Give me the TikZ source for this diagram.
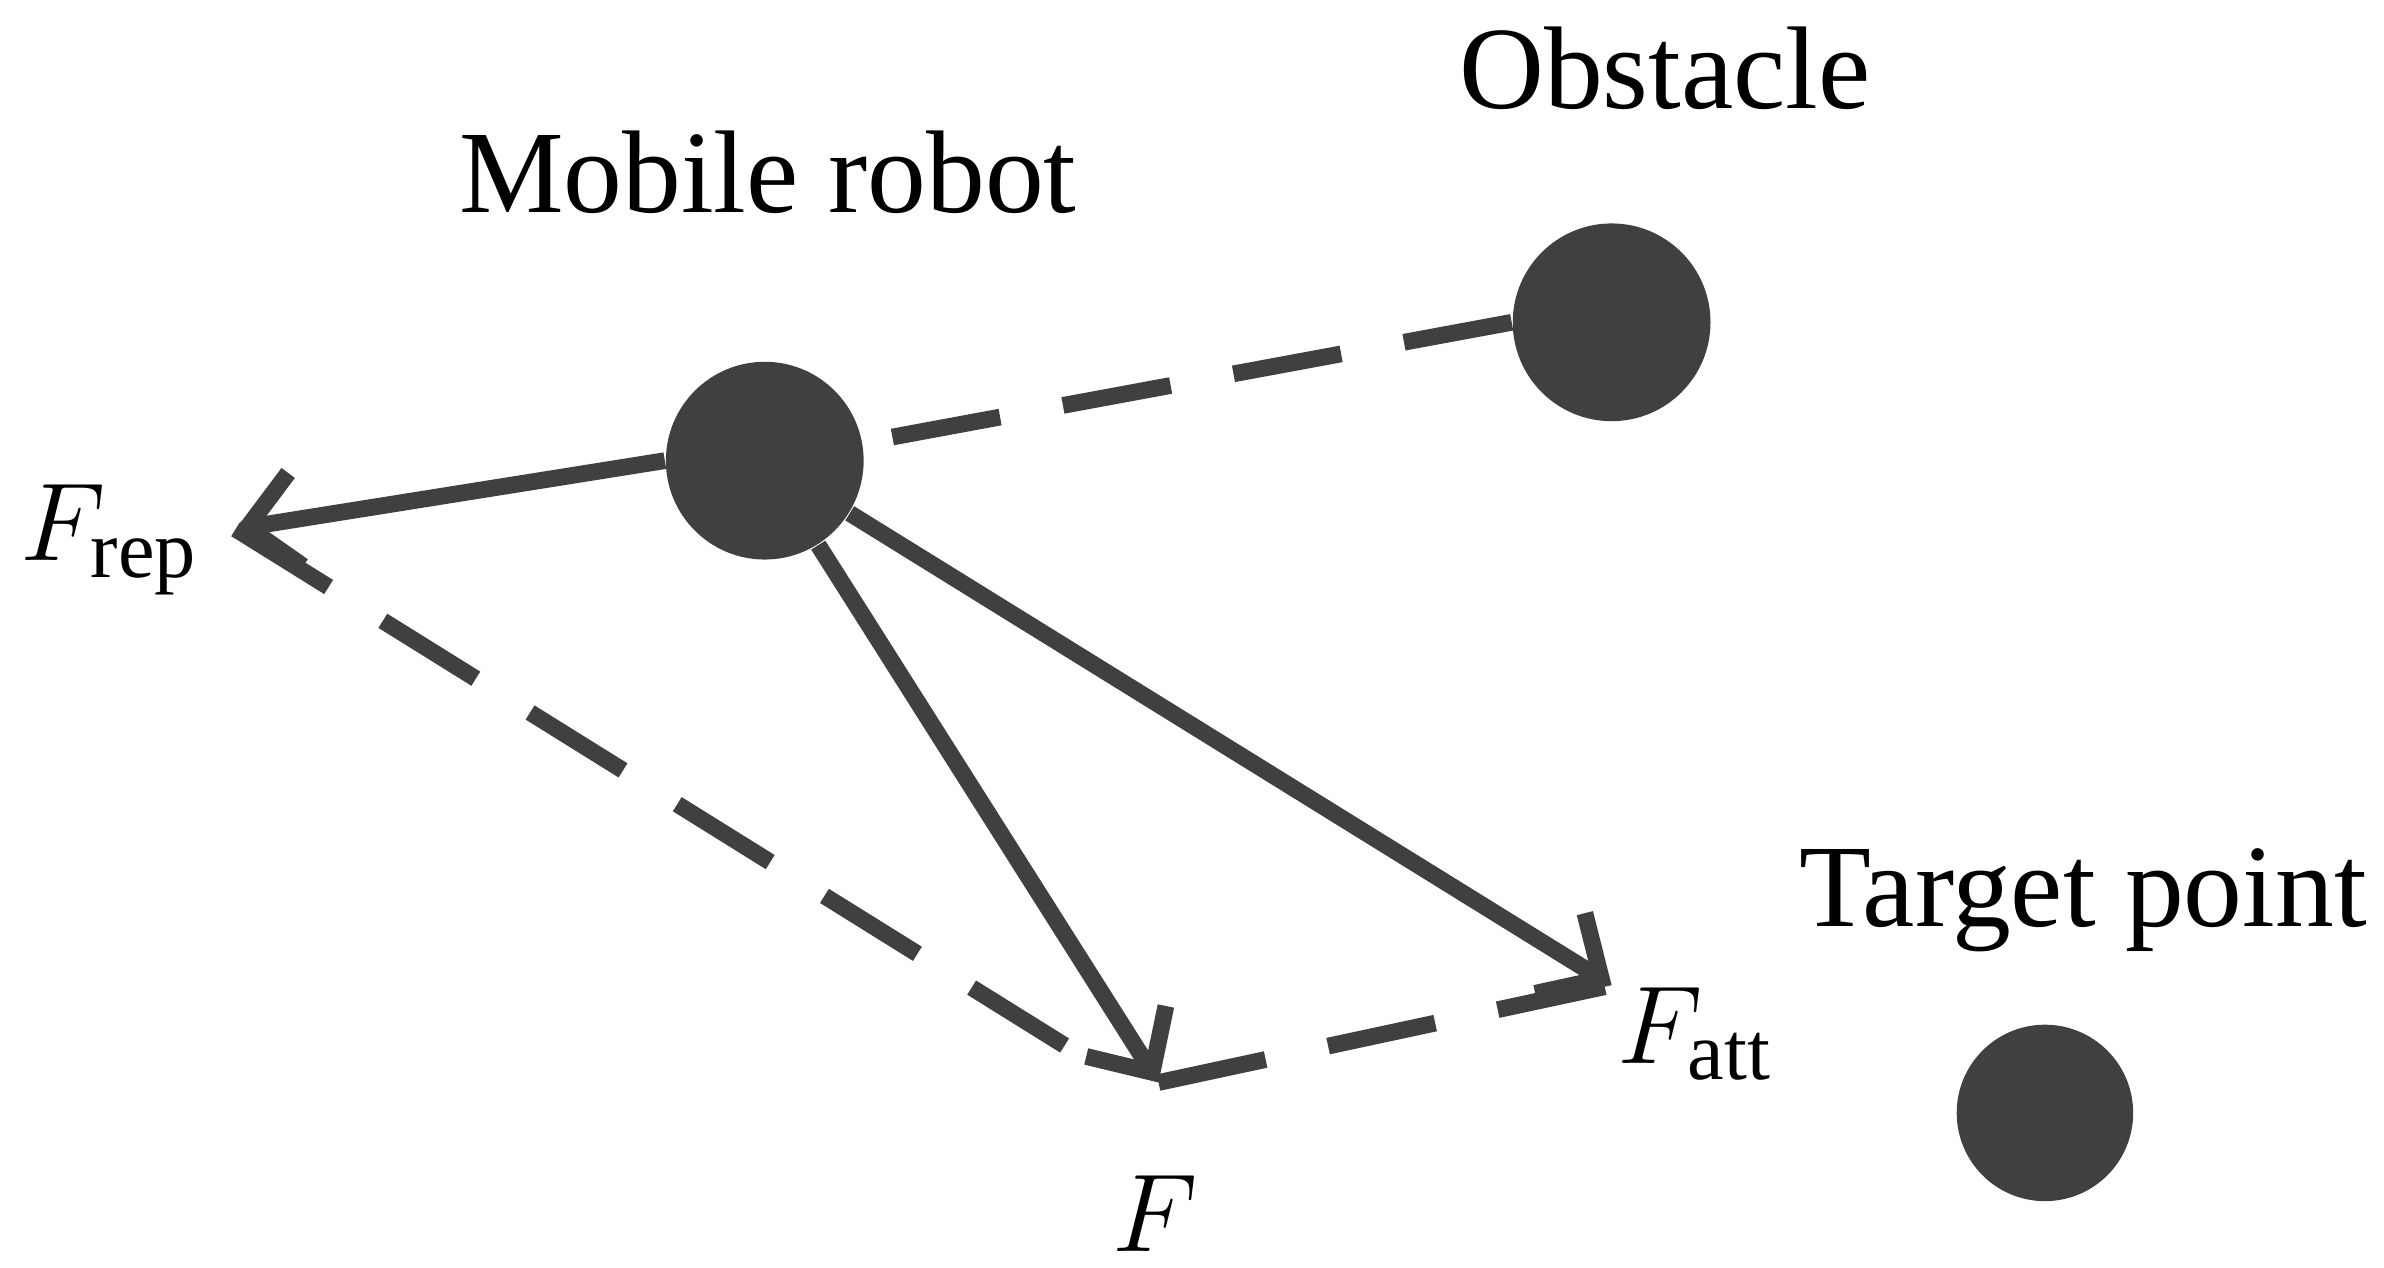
\documentclass[tikz,border=0pt]{standalone}
\usepackage{fontspec}
\setmainfont{Liberation Serif}
\usetikzlibrary{arrows.meta}
\definecolor{dk}{HTML}{404040}
\begin{document}
\begin{tikzpicture}[x=0.01cm,y=-0.01cm,
  ball/.style={circle,fill=dk,inner sep=0pt},
  vec/.style={draw=dk,line width=0.11cm,-{Straight Barb[length=0.32cm,width=0.62cm,line width=0.11cm]}},
  dsh/.style={draw=dk,line width=0.11cm,dash pattern=on 0.72cm off 0.42cm},
  lab/.style={font=\fontsize{22}{26}\selectfont,text=black}]
\useasboundingbox (0,0) rectangle (1568,834);
\node[ball,minimum size=1.3cm] (rob) at (503,303) {};
\node[ball,minimum size=1.3cm] (obs) at (1060,212) {};
\node[ball,minimum size=1.16cm] (tgt) at (1345,732) {};
\coordinate (frep) at (155,348);
\coordinate (f) at (762,712);
\coordinate (fatt) at (1060,648);
\coordinate (fe) at (712,695);
\draw[dsh] (obs.west) -- (rob);
\draw[dsh] (frep) -- (fe);
\draw[dsh] (f) -- (fatt);
\draw[vec] (rob.west) -- (frep);
\draw[vec] (rob) -- (f);
\draw[vec] (rob) -- (fatt);
\node[lab] (t1) at (1095,45) {Obstacle};
\node[lab] (t2) at (505,113) {Mobile robot};
\node[lab] (t3) at (1370,592) {Target point};
\node[lab] (l1) at (72,355) {$F_{\mathrm{rep}}$};
\node[lab] (l2) at (760,798) {$F$};
\node[lab] (l3) at (1115,680) {$F_{\mathrm{att}}$};
\end{tikzpicture}
\end{document}
